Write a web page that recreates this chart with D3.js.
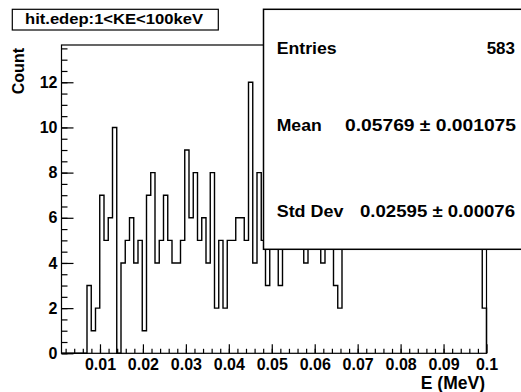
<!DOCTYPE html>
<html>
<head>
<meta charset="utf-8">
<script src="https://cdn.jsdelivr.net/npm/d3@7"></script>
<style>
  html, body { margin: 0; padding: 0; background: #fff; }
  svg { display: block; }
  text { font-family: "Liberation Sans", Arial, Helvetica, sans-serif; font-weight: bold; fill: #000; }
</style>
</head>
<body>
<svg id="chart" width="521" height="392"></svg>
<script>
// ---- data ----
const xMin = 0.00104;
const xMax = 0.1;
const nBins = 100;
// counts per bin (bins 47-98 lie mostly under the stats box; values there estimated)
const counts = [
  0, 0, 0, 0, 0, 0, 3, 1, 2, 7,
  5, 6, 10, 0, 4, 5, 6, 4, 5, 1,
  7, 8, 4, 5, 7, 5, 4, 4, 5, 9,
  6, 8, 5, 6, 4, 8, 2, 5, 2, 5,
  5, 6, 6, 5, 12, 4, 8, 5, 3, 6,
  7, 3, 8, 6, 9, 7, 5, 4, 6, 8,
  7, 4, 9, 6, 3, 2, 7, 8, 6, 10,
  7, 9, 8, 6, 11, 7, 9, 8, 13, 7,
  8, 9, 5, 7, 8, 6, 9, 7, 5, 9,
  8, 6, 7, 11, 8, 6, 9, 7, 8, 2
];
const yMax = 13.65;
const yMajorTicks = [0, 2, 4, 6, 8, 10, 12];
const yMinorTicks = d3.range(0, 13.51, 0.5);
const xMajorTicks = [0.01, 0.02, 0.03, 0.04, 0.05, 0.06, 0.07, 0.08, 0.09, 0.1];
const xMajorLabels = ["0.01", "0.02", "0.03", "0.04", "0.05", "0.06", "0.07", "0.08", "0.09", "0.1"];
const xMinorTicks = d3.range(1, 50).map(i => i * 0.002).filter(v => v > xMin && v < xMax);
const titleText = "hit.edep:1<KE<100keV";
const xTitle = "E (MeV)";
const yTitle = "Count";
const statNames = ["Entries", "Mean", "Std Dev"];
const statValues = ["583", "0.05769 \u00b1 0.001075", "0.02595 \u00b1 0.00076"];

// ---- layout ----
const frame = { left: 61.5, right: 486.5, top: 45, bottom: 353.3 };
const svg = d3.select("#chart");
svg.append("rect").attr("width", 521).attr("height", 392).attr("fill", "#fff");

const x = d3.scaleLinear().domain([xMin, xMax]).range([frame.left, frame.right]);
const y = d3.scaleLinear().domain([0, yMax]).range([frame.bottom, frame.top]);

const binW = (xMax - xMin) / nBins;
const edges = d3.range(nBins + 1).map(i => xMin + i * binW);

// histogram step outline
const pts = [[edges[0], 0]];
counts.forEach((c, i) => pts.push([edges[i], c]));
pts.push([edges[nBins], 0]);
const line = d3.line().x(d => x(d[0])).y(d => y(d[1])).curve(d3.curveStepAfter);
svg.append("path").attr("d", line(pts))
  .attr("fill", "none").attr("stroke", "#000").attr("stroke-width", 1.4);

// frame
svg.append("rect")
  .attr("x", frame.left).attr("y", frame.top)
  .attr("width", frame.right - frame.left).attr("height", frame.bottom - frame.top)
  .attr("fill", "none").attr("stroke", "#000").attr("stroke-width", 1.2);

// y axis
const yAx = svg.append("g").attr("transform", `translate(${frame.left},0)`)
  .call(d3.axisLeft(y).tickValues(yMajorTicks).tickSize(-12).tickPadding(4).tickFormat(d3.format("d")));
const yMin = svg.append("g").attr("transform", `translate(${frame.left},0)`)
  .call(d3.axisLeft(y).tickValues(yMinorTicks).tickSize(-6).tickFormat(""));
// x axis
const xAx = svg.append("g").attr("transform", `translate(0,${frame.bottom})`)
  .call(d3.axisBottom(x).tickValues(xMajorTicks).tickSize(-9).tickPadding(5)
    .tickFormat((d, i) => xMajorLabels[i]));
const xMinr = svg.append("g").attr("transform", `translate(0,${frame.bottom})`)
  .call(d3.axisBottom(x).tickValues(xMinorTicks).tickSize(-4.5).tickFormat(""));

[yAx, yMin, xAx, xMinr].forEach(g => {
  g.select(".domain").remove();
  g.selectAll("line").attr("stroke", "#000").attr("stroke-width", 1.2);
  g.selectAll("text").attr("font-size", 16).attr("fill", "#000")
    .attr("font-family", "'Liberation Sans', Arial, sans-serif").attr("font-weight", "bold");
});
xAx.selectAll(".tick").filter(d => d > xMax).select("line").remove();

// axis titles
svg.append("text").attr("x", 485).attr("y", 389).attr("text-anchor", "end")
  .attr("font-size", 17.5).text(xTitle);
svg.append("text").attr("transform", "translate(24,48) rotate(-90)")
  .attr("text-anchor", "end").attr("font-size", 16).text(yTitle);

// title box
svg.append("rect").attr("x", 12.3).attr("y", 9.3).attr("width", 206).attr("height", 20.7)
  .attr("fill", "#fff").attr("stroke", "#000").attr("stroke-width", 1.2);
svg.append("text").attr("x", 25).attr("y", 24.3).attr("font-size", 14)
  .attr("textLength", 178).attr("lengthAdjust", "spacingAndGlyphs").text(titleText);

// stats box
svg.append("rect").attr("x", 263.5).attr("y", 9.3).attr("width", 262).attr("height", 240)
  .attr("fill", "#fff").attr("stroke", "#000").attr("stroke-width", 1.5);
const rowY = [54, 131, 217];
const nameLen = [60, 45, 66.7];
const valX = [486.7, 345, 360];
const valLen = [28.3, 171, 155];
statNames.forEach((n, i) => {
  svg.append("text").attr("x", 276.7).attr("y", rowY[i]).attr("font-size", 16)
    .attr("textLength", nameLen[i]).attr("lengthAdjust", "spacingAndGlyphs").text(n);
  svg.append("text").attr("x", valX[i]).attr("y", rowY[i]).attr("font-size", 16)
    .attr("textLength", valLen[i]).attr("lengthAdjust", "spacingAndGlyphs").text(statValues[i]);
});
</script>
</body>
</html>
